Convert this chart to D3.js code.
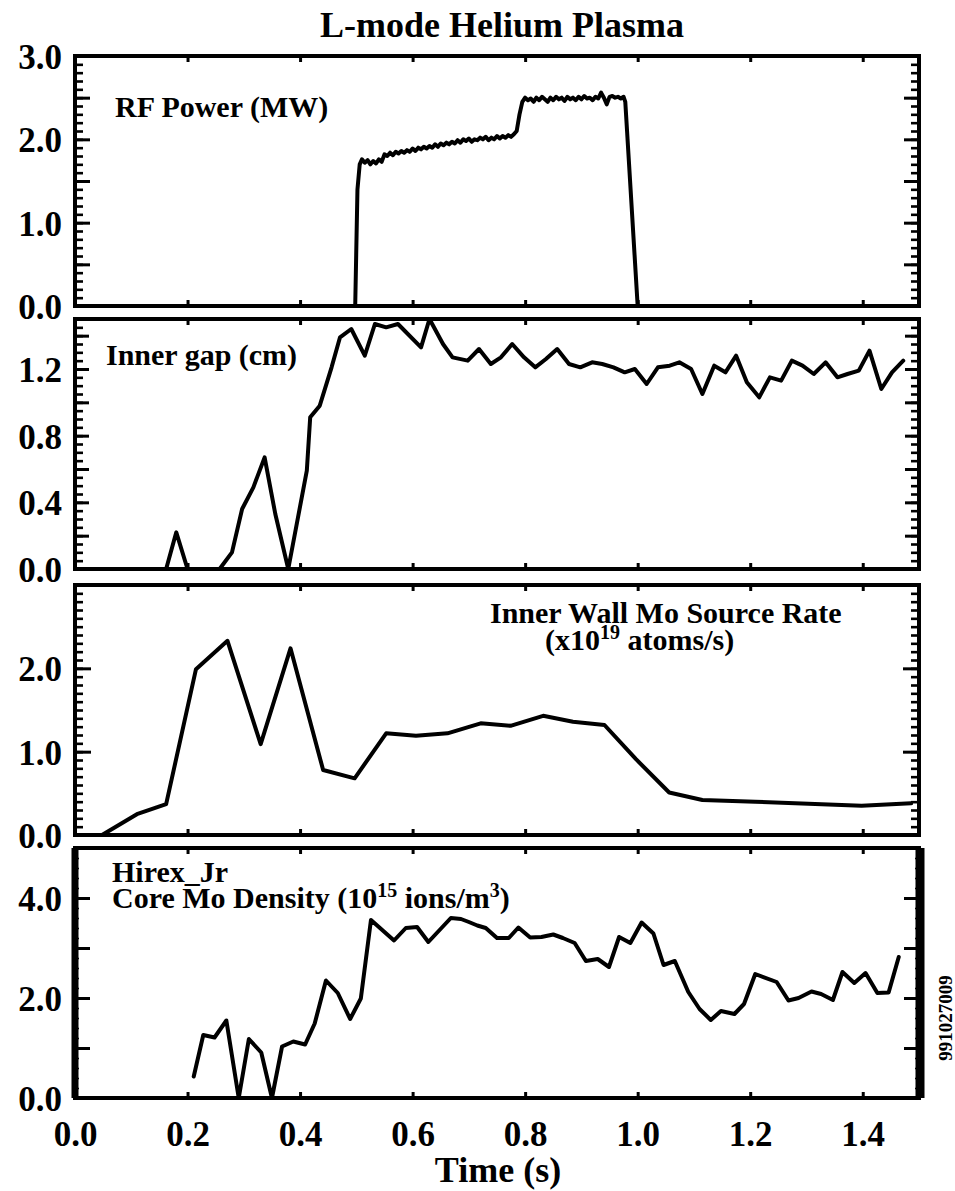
<!DOCTYPE html>
<html><head><meta charset="utf-8">
<script src="https://cdn.jsdelivr.net/npm/d3@7"></script>
<style>body{margin:0;background:#fff}svg{display:block}</style>
</head><body>
<svg id="c" width="955" height="1191"></svg>
<script>
// ---------------- DATA ----------------
const timeTicks = [0.0, 0.2, 0.4, 0.6, 0.8, 1.0, 1.2, 1.4];
const timeTickLabels = ["0.0", "0.2", "0.4", "0.6", "0.8", "1.0", "1.2", "1.4"];

const rfTickValues = [0, 1, 2, 3];
const rfTickLabels = ["0.0", "1.0", "2.0", "3.0"];
const gapTickValues = [0, 0.4, 0.8, 1.2];
const gapTickLabels = ["0.0", "0.4", "0.8", "1.2"];
const moTickValues = [0, 1, 2];
const moTickLabels = ["0.0", "1.0", "2.0"];
const hxTickValues = [0, 2, 4];
const hxTickLabels = ["0.0", "2.0", "4.0"];

const rfTime = [0.0, 0.498, 0.502, 0.506,
 0.510, 0.515, 0.520, 0.525, 0.530, 0.535, 0.540, 0.545, 0.550, 0.555, 0.560, 0.565, 0.570, 0.575, 0.580, 0.585,
 0.590, 0.595, 0.600, 0.605, 0.610, 0.615, 0.620, 0.625, 0.630, 0.635, 0.640, 0.645, 0.650, 0.655, 0.660, 0.665,
 0.670, 0.675, 0.680, 0.685, 0.690, 0.695, 0.700, 0.705, 0.710, 0.715, 0.720, 0.725, 0.730, 0.735, 0.740, 0.745,
 0.750, 0.755, 0.760, 0.765, 0.770, 0.775, 0.780, 0.785,
 0.790, 0.795, 0.800, 0.805, 0.810, 0.815, 0.820, 0.825, 0.830, 0.835, 0.840, 0.845, 0.850, 0.855, 0.860, 0.865,
 0.870, 0.875, 0.880, 0.885, 0.890, 0.895, 0.900, 0.905, 0.910, 0.915, 0.920, 0.925, 0.930, 0.935, 0.940, 0.945,
 0.950, 0.955, 0.960, 0.965, 0.970, 0.975,
 0.978, 1.000, 1.500];
const rfPower = [0, 0, 1.40, 1.70,
 1.76, 1.72, 1.75, 1.70, 1.74, 1.71, 1.76, 1.73, 1.82, 1.80, 1.84, 1.81, 1.85, 1.83, 1.86, 1.84,
 1.87, 1.85, 1.89, 1.86, 1.90, 1.88, 1.91, 1.89, 1.92, 1.90, 1.94, 1.91, 1.95, 1.93, 1.96, 1.94,
 1.97, 1.95, 1.99, 1.96, 2.00, 1.98, 2.01, 1.97, 2.00, 1.99, 2.02, 2.00, 2.03, 1.99, 2.02, 2.00,
 2.04, 2.01, 2.04, 2.02, 2.05, 2.03, 2.06, 2.10,
 2.30, 2.45, 2.50, 2.47, 2.49, 2.45, 2.50, 2.47, 2.51, 2.48, 2.45, 2.50, 2.47, 2.51, 2.48, 2.50,
 2.46, 2.51, 2.48, 2.50, 2.47, 2.51, 2.48, 2.52, 2.49, 2.50, 2.47, 2.51, 2.49, 2.56, 2.50, 2.42,
 2.51, 2.52, 2.50, 2.51, 2.49, 2.51,
 2.45, 0, 0];

const gapTime = [0, 0.162, 0.18, 0.20, 0.257, 0.279, 0.297, 0.317, 0.337, 0.356,
 0.379, 0.412, 0.418, 0.435, 0.456, 0.471, 0.491, 0.515, 0.533, 0.553,
 0.574, 0.615, 0.63, 0.654, 0.671, 0.698, 0.718, 0.739, 0.757, 0.777,
 0.798, 0.818, 0.837, 0.857, 0.878, 0.898, 0.919, 0.937, 0.957, 0.977,
 0.995, 1.016, 1.036, 1.057, 1.074, 1.095, 1.115, 1.136, 1.156, 1.175,
 1.194, 1.216, 1.235, 1.255, 1.274, 1.293, 1.313, 1.334, 1.355, 1.373,
 1.393, 1.412, 1.433, 1.452, 1.472];
const gapValue = [0, 0, 0.22, 0, 0, 0.10, 0.36, 0.49, 0.67, 0.33,
 0, 0.59, 0.91, 0.98, 1.21, 1.39, 1.44, 1.28, 1.47, 1.45,
 1.47, 1.33, 1.50, 1.35, 1.27, 1.25, 1.32, 1.23, 1.27, 1.35,
 1.27, 1.21, 1.26, 1.32, 1.23, 1.21, 1.24, 1.23, 1.21, 1.18,
 1.20, 1.11, 1.21, 1.22, 1.24, 1.20, 1.05, 1.22, 1.18, 1.28,
 1.12, 1.03, 1.15, 1.13, 1.25, 1.22, 1.17, 1.24, 1.15, 1.17,
 1.19, 1.31, 1.08, 1.18, 1.25];

const moTime = [0, 0.048, 0.11, 0.162, 0.215, 0.271, 0.33, 0.383, 0.441, 0.497,
 0.553, 0.606, 0.662, 0.721, 0.774, 0.832, 0.885, 0.941, 0.997, 1.056,
 1.115, 1.209, 1.327, 1.398, 1.486];
const moRate = [0, 0, 0.25, 0.37, 1.99, 2.33, 1.09, 2.24, 0.78, 0.68,
 1.22, 1.19, 1.22, 1.34, 1.31, 1.43, 1.36, 1.32, 0.91, 0.51,
 0.42, 0.40, 0.37, 0.35, 0.38];

const hxTime = [0.211, 0.228, 0.248, 0.269, 0.291, 0.309, 0.331, 0.35, 0.368, 0.388,
 0.409, 0.426, 0.446, 0.467, 0.489, 0.508, 0.526, 0.567, 0.588, 0.608,
 0.628, 0.668, 0.686, 0.70, 0.715, 0.73, 0.75, 0.771, 0.788, 0.809,
 0.829, 0.85, 0.867, 0.888, 0.908, 0.929, 0.949, 0.967, 0.987, 1.007,
 1.028, 1.046, 1.066, 1.09, 1.11, 1.13, 1.148, 1.172, 1.189, 1.209,
 1.247, 1.268, 1.286, 1.309, 1.326, 1.347, 1.364, 1.385, 1.405, 1.426,
 1.446, 1.464];
const hxDensity = [0.43, 1.26, 1.21, 1.55, 0.0, 1.18, 0.91, 0.0, 1.03, 1.13,
 1.07, 1.49, 2.35, 2.10, 1.58, 1.99, 3.56, 3.15, 3.40, 3.42,
 3.12, 3.60, 3.58, 3.52, 3.45, 3.40, 3.20, 3.20, 3.41, 3.21,
 3.22, 3.27, 3.20, 3.10, 2.74, 2.78, 2.62, 3.22, 3.10, 3.51,
 3.29, 2.66, 2.74, 2.12, 1.78, 1.56, 1.74, 1.68, 1.88, 2.48,
 2.32, 1.95, 2.00, 2.13, 2.08, 1.96, 2.52, 2.30, 2.50, 2.10,
 2.11, 2.82];

// ---------------- LAYOUT ----------------
const FONT = "'Liberation Serif','Times New Roman',Times,serif";
const L = 75, R = 919, PH = 250;
const svg = d3.select("#c");
const x = d3.scaleLinear().domain([0, 1.5]).range([L, R]);

const panels = [
  {top: 56, ymax: 3.0, t: rfTime, v: rfPower, lv: rfTickValues, lt: rfTickLabels,
   major: d3.range(0, 3.01, 0.5), minor: d3.range(0, 3.01, 0.1), majLen: 15, minLen: 8, lw: 4},
  {top: 319, ymax: 1.5, t: gapTime, v: gapValue, lv: gapTickValues, lt: gapTickLabels,
   major: d3.range(0, 1.41, 0.2), minor: d3.range(0, 1.51, 0.05), majLen: 14, minLen: 8, lw: 4},
  {top: 585, ymax: 3.0, t: moTime, v: moRate, lv: moTickValues, lt: moTickLabels,
   major: [0, 1, 2, 3], minor: d3.range(0, 3.01, 0.1), majLen: 16, minLen: 8, lw: 4},
  {top: 848, ymax: 5.0, t: hxTime, v: hxDensity, lv: hxTickValues, lt: hxTickLabels,
   major: [0, 1, 2, 3, 4, 5], minor: d3.range(0, 5.01, 0.2), majLen: 15, minLen: 4, lw: 4}
];

function styleAxis(sel, w) {
  sel.select(".domain").remove();
  sel.selectAll(".tick line").attr("stroke", "#000").attr("stroke-width", w);
}

panels.forEach((p, i) => {
  const bottom = p.top + PH;
  const y = d3.scaleLinear().domain([0, p.ymax]).range([bottom, p.top]);
  const g = svg.append("g");

  // minor ticks both sides
  g.append("g").attr("transform", `translate(${L},0)`)
    .call(d3.axisLeft(y).tickValues(p.minor).tickSize(-p.minLen).tickFormat(""))
    .call(s => styleAxis(s, i === 3 ? 1.5 : 2.6));
  g.append("g").attr("transform", `translate(${R},0)`)
    .call(d3.axisRight(y).tickValues(p.minor).tickSize(-p.minLen).tickFormat(""))
    .call(s => styleAxis(s, i === 3 ? 1.5 : 2.6));
  // major ticks both sides
  g.append("g").attr("transform", `translate(${L},0)`)
    .call(d3.axisLeft(y).tickValues(p.major).tickSize(-p.majLen).tickFormat(""))
    .call(s => styleAxis(s, 3));
  g.append("g").attr("transform", `translate(${R},0)`)
    .call(d3.axisRight(y).tickValues(p.major).tickSize(-p.majLen).tickFormat(""))
    .call(s => styleAxis(s, 3));
  // y labels
  const labelAxis = g.append("g").attr("transform", `translate(${L},0)`)
    .call(d3.axisLeft(y).tickValues(p.lv).tickSize(0).tickPadding(13)
      .tickFormat((d, k) => p.lt[k]));
  labelAxis.select(".domain").remove();
  labelAxis.selectAll("text").attr("font-family", FONT).attr("font-weight", "bold")
    .attr("font-size", 35).attr("fill", "#000").attr("dy", "0.36em");

  // x ticks top and bottom (inward)
  g.append("g").attr("transform", `translate(0,${p.top})`)
    .call(d3.axisBottom(x).tickValues(timeTicks).tickSize(6).tickFormat(""))
    .call(s => styleAxis(s, 3));
  const bAxis = g.append("g").attr("transform", `translate(0,${bottom})`)
    .call(d3.axisTop(x).tickValues(timeTicks).tickSize(6)
      .tickFormat(i === 3 ? ((d, k) => timeTickLabels[k]) : ""));
  styleAxis(bAxis, 3);
  if (i === 3) {
    bAxis.selectAll("text").attr("font-family", FONT).attr("font-weight", "bold")
      .attr("font-size", 35).attr("fill", "#000").attr("y", 48).attr("dy", 0);
  }

  // frame
  g.append("rect").attr("x", L).attr("y", p.top).attr("width", R - L).attr("height", PH)
    .attr("fill", "none").attr("stroke", "#000").attr("stroke-width", 4);
  if (i === 3) {
    g.append("line").attr("x1", L).attr("x2", L).attr("y1", p.top).attr("y2", bottom)
      .attr("stroke", "#000").attr("stroke-width", 7);
    g.append("line").attr("x1", R + 1).attr("x2", R + 1).attr("y1", p.top).attr("y2", bottom)
      .attr("stroke", "#000").attr("stroke-width", 9);
  }

  // data line
  const pts = p.t.map((t, k) => [t, p.v[k]]);
  g.append("path").datum(pts)
    .attr("fill", "none").attr("stroke", "#000").attr("stroke-width", p.lw)
    .attr("stroke-linejoin", "round").attr("stroke-linecap", "round")
    .attr("d", d3.line().x(d => x(d[0])).y(d => y(d[1])));
});

// ---------------- TEXT ----------------
function txt(xp, yp, s, size, anchor) {
  return svg.append("text").attr("x", xp).attr("y", yp)
    .attr("font-family", FONT).attr("font-weight", "bold").attr("font-size", size)
    .attr("fill", "#000").attr("text-anchor", anchor || "start").text(s);
}
txt(502, 37, "L-mode Helium Plasma", 36, "middle");
txt(115, 117, "RF Power (MW)", 30);
txt(106, 365, "Inner gap (cm)", 30);
txt(490, 623, "Inner Wall Mo Source Rate", 30);
const sub3 = txt(545, 650, "(x10", 30);
sub3.append("tspan").attr("dy", -11).attr("font-size", 20).text("19");
sub3.append("tspan").attr("dy", 11).text(" atoms/s)");
txt(112, 882, "Hirex_Jr", 30);
const sub4 = txt(112, 908, "Core Mo Density (10", 30);
sub4.append("tspan").attr("dy", -11).attr("font-size", 20).text("15");
sub4.append("tspan").attr("dy", 11).text(" ions/m");
sub4.append("tspan").attr("dy", -11).attr("font-size", 20).text("3");
sub4.append("tspan").attr("dy", 11).text(")");
txt(498, 1182, "Time (s)", 36, "middle");
svg.append("text").attr("transform", "translate(952,1018) rotate(-90)")
  .attr("font-family", FONT).attr("font-weight", "bold").attr("font-size", 19)
  .attr("text-anchor", "middle").attr("fill", "#000").text("991027009");
</script>
</body></html>
